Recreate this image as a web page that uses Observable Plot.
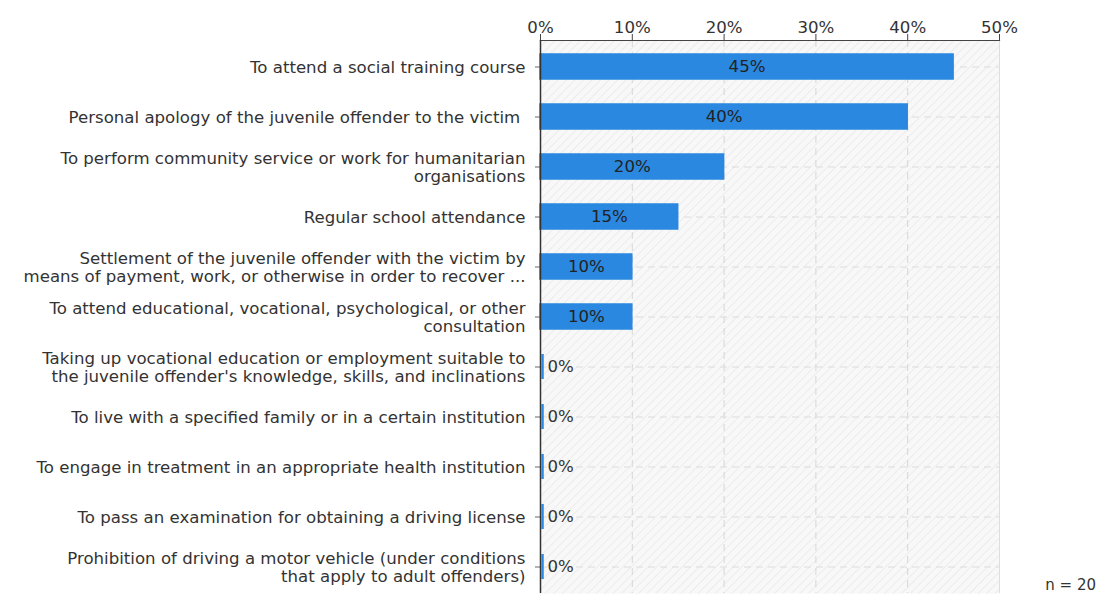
<!DOCTYPE html>
<html>
<head>
<meta charset="utf-8">
<script src="https://cdn.jsdelivr.net/npm/d3@7"></script>
<script src="https://cdn.jsdelivr.net/npm/@observablehq/plot@0.6"></script>
<style>
  html, body { margin: 0; padding: 0; background: #fff; }
  #wrap { position: relative; width: 1107px; height: 594px; font-family: "DejaVu Sans", Verdana, sans-serif; }
  #note { position: absolute; right: 11px; bottom: 0px; font-size: 15px; color: #333; }
</style>
</head>
<body>
<div id="wrap"><div id="chart"></div><div id="note">n = 20</div></div>
<script>
const categories = [
  "To attend a social training course",
  "Personal apology of the juvenile offender to the victim ",
  "To perform community service or work for humanitarian\norganisations",
  "Regular school attendance",
  "Settlement of the juvenile offender with the victim by\nmeans of payment, work, or otherwise in order to recover ...",
  "To attend educational, vocational, psychological, or other\nconsultation",
  "Taking up vocational education or employment suitable to\nthe juvenile offender's knowledge, skills, and inclinations",
  "To live with a specified family or in a certain institution",
  "To engage in treatment in an appropriate health institution",
  "To pass an examination for obtaining a driving license",
  "Prohibition of driving a motor vehicle (under conditions\nthat apply to adult offenders)"
];
const values = [45, 40, 20, 15, 10, 10, 0, 0, 0, 0, 0];
const xTicks = [0, 10, 20, 30, 40, 50];

const data = categories.map((c, i) => ({category: c, value: values[i]}));
const barColor = "#2a88e0";
const FS = 16.6;

const defsMark = () => {
  const svgNS = "http://www.w3.org/2000/svg";
  const g = document.createElementNS(svgNS, "defs");
  g.innerHTML = `<pattern id="hatch" patternUnits="userSpaceOnUse" width="6" height="6" patternTransform="rotate(45)">
      <rect width="6" height="6" fill="#f8f8f8"></rect>
      <line x1="0" y1="0" x2="0" y2="6" stroke="#ececec" stroke-width="2"></line>
    </pattern>`;
  return g;
};

const chart = Plot.plot({
  width: 1107,
  height: 594,
  marginTop: 40,
  marginLeft: 540,
  marginRight: 108,
  marginBottom: 1,
  style: {fontFamily: "DejaVu Sans, Verdana, sans-serif", fontSize: FS + "px", color: "#333", background: "#fff"},
  x: {domain: [0, 50], axis: null, label: null},
  y: {domain: categories, axis: null, label: null, paddingInner: 0.5, paddingOuter: 0.25},
  marks: [
    defsMark,
    Plot.frame({fill: "url(#hatch)", stroke: null}),
    Plot.ruleX([50], {stroke: "#dedede", strokeWidth: 1}),
    Plot.ruleX(xTicks.slice(1, -1), {stroke: "#d6d6d6", strokeDasharray: "7,5", strokeWidth: 1}),
    Plot.ruleY(categories, {stroke: "#dcdcdc", strokeDasharray: "7,5", strokeWidth: 1}),
    Plot.barX(data.filter(d => d.value > 0), {x: "value", y: "category", fill: barColor, stroke: barColor, strokeWidth: 1.5}),
    Plot.axisX({anchor: "top", ticks: xTicks, tickFormat: d => d + "%", label: null, tickSize: 7, tickPadding: 1, fontSize: FS, stroke: "#444", color: "#333"}),
    Plot.frame({anchor: "top", stroke: "#444", strokeWidth: 1.2}),
    Plot.axisY({anchor: "left", label: null, tickSize: 5, tickPadding: 10, fontSize: FS, lineHeight: 1.1, color: "#333", stroke: "#666"}),
    Plot.ruleX([0], {stroke: "#333", strokeWidth: 1.5}),
    Plot.tickX(data.filter(d => d.value === 0), {x: "value", y: "category", stroke: barColor, strokeWidth: 2.5, dx: 2}),
    Plot.text(data.filter(d => d.value > 0), {x: d => d.value / 2, y: "category", text: d => d.value + "%", fill: "#222", fontSize: FS}),
    Plot.text(data.filter(d => d.value === 0), {x: 0, y: "category", text: d => d.value + "%", fill: "#333", fontSize: FS, textAnchor: "start", dx: 7})
  ]
});
document.getElementById("chart").appendChild(chart);
</script>
</body>
</html>
